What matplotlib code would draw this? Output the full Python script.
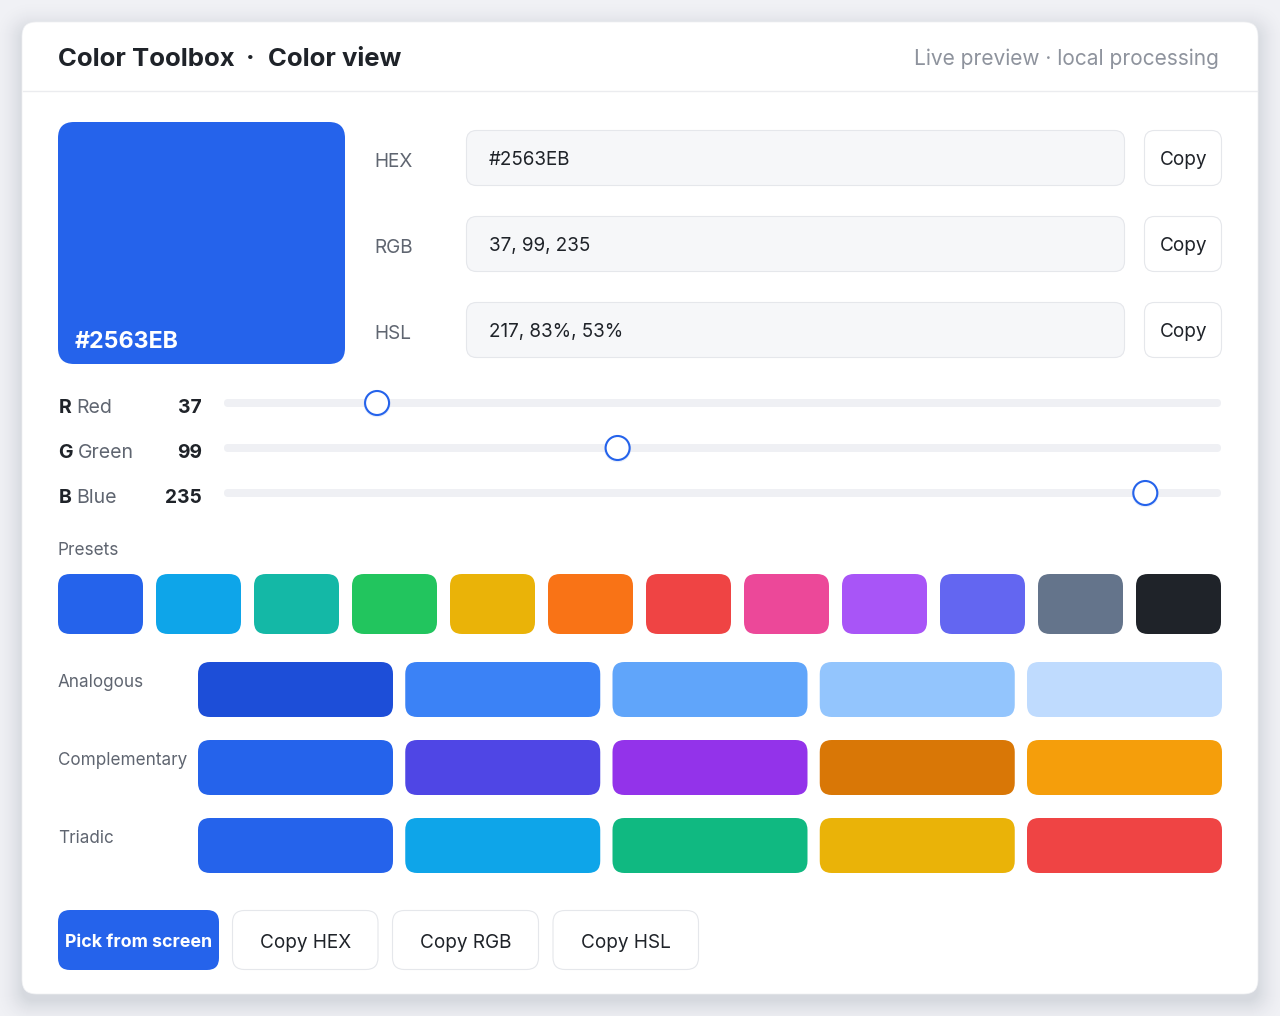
import matplotlib
matplotlib.use('Agg')
import matplotlib.pyplot as plt
import numpy as np
from matplotlib.colors import to_rgb
from matplotlib.patches import FancyBboxPatch, Circle

plt.rcParams['font.family'] = ['Inter', 'DejaVu Sans']

# --- data ---
HEX_VALUE = '#2563EB'
field_labels = ['HEX', 'RGB', 'HSL']
field_values = ['#2563EB', '37, 99, 235', '217, 83%, 53%']
channel_keys = ['R', 'G', 'B']
channel_names = ['Red', 'Green', 'Blue']
channel_values = [37, 99, 235]
preset_colors = ['#2563EB', '#0EA5E9', '#14B8A6', '#22C55E', '#EAB308', '#F97316',
                 '#EF4444', '#EC4899', '#A855F7', '#6366F1', '#64748B', '#1F2329']
palette_names = ['Analogous', 'Complementary', 'Triadic']
analogous = ['#1D4ED8', '#3B82F6', '#60A5FA', '#93C5FD', '#BFDBFE']
complementary = ['#2563EB', '#4F46E5', '#9333EA', '#D97706', '#F59E0B']
triadic = ['#2563EB', '#0EA5E9', '#10B981', '#EAB308', '#EF4444']
action_labels = ['Pick from screen', 'Copy HEX', 'Copy RGB', 'Copy HSL']

INK = '#1F2329'
MUTED = '#5F6570'
BORDER = '#E5E7EB'
PAGE = '#F0F1F5'


def px(size):
    # css pixels to points at dpi 100
    return size * 0.72


fig = plt.figure(figsize=(12.8, 10.16), dpi=100, facecolor=PAGE)
ax = fig.add_axes([0, 0, 1, 1])
ax.set_xlim(0, 1280)
ax.set_ylim(1016, 0)
ax.axis('off')


def box(x, y, w, h, r, fc, ec='none', lw=0, alpha=None, z=2):
    p = FancyBboxPatch((x, y), w, h, boxstyle=f'round,pad=0,rounding_size={r}',
                       fc=fc, ec=ec, lw=lw, alpha=alpha, zorder=z)
    ax.add_patch(p)
    return p


def label(x, y, s, size, color=INK, weight='normal', ha='left'):
    return ax.text(x, y, s, fontsize=px(size), color=color, fontweight=weight,
                   ha=ha, va='center_baseline', zorder=5)


# card with soft shadow, opaque steps so low alpha does not tint it
page_rgb = np.array(to_rgb(PAGE))
dark_rgb = np.array(to_rgb('#D6D9DF'))
for grow in range(30, -1, -1):
    t = (1 - grow / 30) ** 2
    box(22 - grow, 22 - grow + 7, 1236 + 2 * grow, 972 + 2 * grow, 14 + grow,
        tuple(page_rgb + (dark_rgb - page_rgb) * t), z=0)
box(22, 22, 1236, 972, 14, '#FFFFFF', ec='#EFF0F3', lw=0.5, z=1)

# header
label(58, 57, 'Color Toolbox', 25.7, weight='bold')
label(250.5, 57, '·', 25.7, weight='bold', ha='center')
label(268, 57, 'Color view', 25.7, weight='bold')
label(1219, 57, 'Live preview · local processing', 20.9, color='#8E939D', ha='right')
ax.plot([23, 1257], [91, 91], color='#EBECEF', lw=1, zorder=2)

# big swatch
box(58, 122, 287, 242, 16, HEX_VALUE)
label(75, 340, HEX_VALUE, 23.2, color='#FFFFFF', weight='bold')

# value fields
for i, (name, val) in enumerate(zip(field_labels, field_values)):
    y = 130 + i * 86
    label(374.5, y + 30, name, 19, color=MUTED)
    box(466.5, y + 0.5, 658, 55, 10, '#F6F7F9', ec=BORDER, lw=0.8)
    label(489, y + 28, val, 18.8)
    box(1144.5, y + 0.5, 77, 55, 10, '#FFFFFF', ec=BORDER, lw=0.8)
    label(1183.5, y + 28, 'Copy', 19, ha='center')

# sliders
key_x = [59, 58.5, 59]
name_x = [76.5, 78, 76.5]
for i, (key, name, val) in enumerate(zip(channel_keys, channel_names, channel_values)):
    y = 403 + i * 45
    label(key_x[i], y + 3, key, 19.5, weight='bold')
    label(name_x[i], y + 3, name, 19.5, color=MUTED)
    label(202, y + 3, str(val), 19.2, weight='bold', ha='right')
    box(224, y - 4, 997, 8, 4, '#EFF0F4')
    cx = 233.5 + val * 3.88
    ax.add_patch(Circle((cx, y + 0.8), 13.5, fc='#2563EB', alpha=0.10, ec='none', zorder=3))
    ax.add_patch(Circle((cx, y), 12, fc='#FFFFFF', ec='#2563EB', lw=1.5, zorder=4))

# presets
label(57.5, 548.4, 'Presets', 17.2, color=MUTED)
for i, c in enumerate(preset_colors):
    box(58 + i * 98, 574, 85, 60, 12, c)

# palettes
for j, (name, colors) in enumerate(zip(palette_names, [analogous, complementary, triadic])):
    y = 662 + j * 78
    label(58, y + 18.4, name, 17.1, color=MUTED)
    for i, c in enumerate(colors):
        box(198 + i * 207.25, y, 195, 55, 12, c)

# action buttons
btn_x = [58, 232.5, 392.5, 553]
btn_w = [161, 145.5, 146, 145.5]
for i, (s, x, w) in enumerate(zip(action_labels, btn_x, btn_w)):
    if i == 0:
        box(x, 910, w, 60, 12, '#2563EB')
        label(x + w / 2, 940.5, s, 17.8, color='#FFFFFF', weight='bold', ha='center')
    else:
        box(x, 910.5, w, 59, 12, '#FFFFFF', ec=BORDER, lw=0.8)
        label(x + w / 2, 940.5, s, 19, ha='center')

fig.savefig('out.png', dpi=100, facecolor=fig.get_facecolor())
